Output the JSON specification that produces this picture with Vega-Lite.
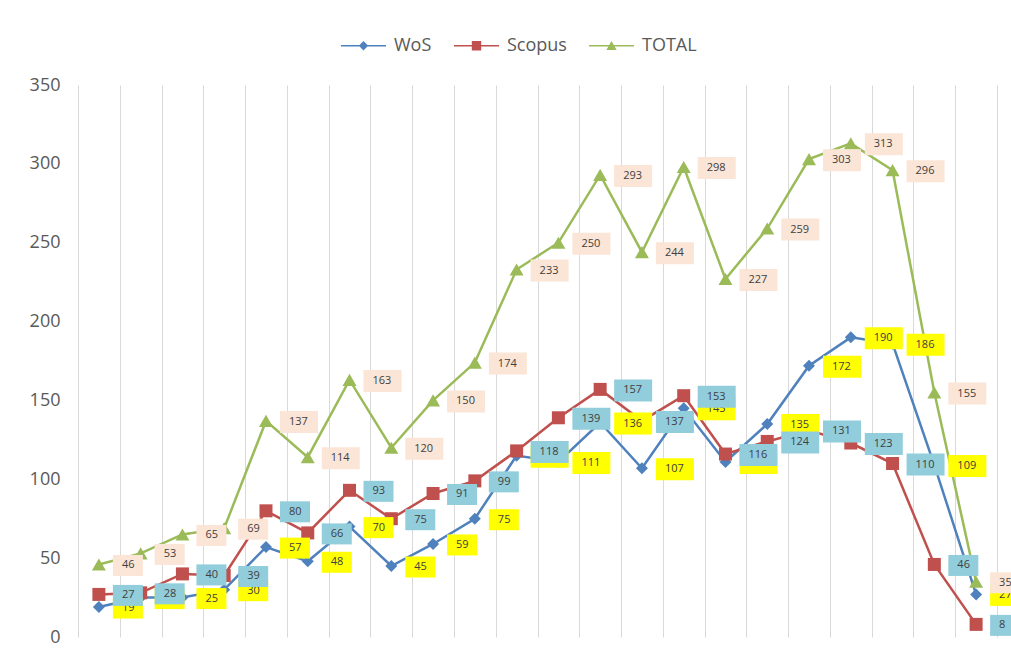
{
  "$schema": "https://vega.github.io/schema/vega-lite/v6.json",
  "width": 919,
  "height": 552,
  "autosize": "none",
  "padding": {"left": 78, "top": 85, "right": 14, "bottom": 16},
  "background": "white",
  "config": {"view": {"stroke": null}, "font": "Open Sans"},
  "data": {"values": [
    {"i":0,"series":"WoS","value":19},{"i":1,"series":"WoS","value":25},{"i":2,"series":"WoS","value":25},{"i":3,"series":"WoS","value":30},{"i":4,"series":"WoS","value":57},{"i":5,"series":"WoS","value":48},{"i":6,"series":"WoS","value":70},{"i":7,"series":"WoS","value":45},{"i":8,"series":"WoS","value":59},{"i":9,"series":"WoS","value":75},{"i":10,"series":"WoS","value":115},{"i":11,"series":"WoS","value":111},{"i":12,"series":"WoS","value":136},{"i":13,"series":"WoS","value":107},{"i":14,"series":"WoS","value":145},{"i":15,"series":"WoS","value":111},{"i":16,"series":"WoS","value":135},{"i":17,"series":"WoS","value":172},{"i":18,"series":"WoS","value":190},{"i":19,"series":"WoS","value":186},{"i":20,"series":"WoS","value":109},{"i":21,"series":"WoS","value":27},
    {"i":0,"series":"Scopus","value":27},{"i":1,"series":"Scopus","value":28},{"i":2,"series":"Scopus","value":40},{"i":3,"series":"Scopus","value":39},{"i":4,"series":"Scopus","value":80},{"i":5,"series":"Scopus","value":66},{"i":6,"series":"Scopus","value":93},{"i":7,"series":"Scopus","value":75},{"i":8,"series":"Scopus","value":91},{"i":9,"series":"Scopus","value":99},{"i":10,"series":"Scopus","value":118},{"i":11,"series":"Scopus","value":139},{"i":12,"series":"Scopus","value":157},{"i":13,"series":"Scopus","value":137},{"i":14,"series":"Scopus","value":153},{"i":15,"series":"Scopus","value":116},{"i":16,"series":"Scopus","value":124},{"i":17,"series":"Scopus","value":131},{"i":18,"series":"Scopus","value":123},{"i":19,"series":"Scopus","value":110},{"i":20,"series":"Scopus","value":46},{"i":21,"series":"Scopus","value":8},
    {"i":0,"series":"TOTAL","value":46},{"i":1,"series":"TOTAL","value":53},{"i":2,"series":"TOTAL","value":65},{"i":3,"series":"TOTAL","value":69},{"i":4,"series":"TOTAL","value":137},{"i":5,"series":"TOTAL","value":114},{"i":6,"series":"TOTAL","value":163},{"i":7,"series":"TOTAL","value":120},{"i":8,"series":"TOTAL","value":150},{"i":9,"series":"TOTAL","value":174},{"i":10,"series":"TOTAL","value":233},{"i":11,"series":"TOTAL","value":250},{"i":12,"series":"TOTAL","value":293},{"i":13,"series":"TOTAL","value":244},{"i":14,"series":"TOTAL","value":298},{"i":15,"series":"TOTAL","value":227},{"i":16,"series":"TOTAL","value":259},{"i":17,"series":"TOTAL","value":303},{"i":18,"series":"TOTAL","value":313},{"i":19,"series":"TOTAL","value":296},{"i":20,"series":"TOTAL","value":155},{"i":21,"series":"TOTAL","value":35}
  ]},
  "encoding": {
    "x": {"field": "i", "type": "quantitative",
      "scale": {"domain": [-0.5, 21.5], "nice": false, "zero": false},
      "axis": {"values": [-0.5,0.5,1.5,2.5,3.5,4.5,5.5,6.5,7.5,8.5,9.5,10.5,11.5,12.5,13.5,14.5,15.5,16.5,17.5,18.5,19.5,20.5,21.5],
        "labels": false, "ticks": false, "domain": false, "grid": true, "gridColor": "#D9D9D9", "gridWidth": 1, "title": null}},
    "y": {"field": "value", "type": "quantitative",
      "scale": {"domain": [0, 350], "nice": false},
      "axis": {"values": [0,50,100,150,200,250,300,350], "grid": false, "domain": false, "ticks": false, "tickSize": 0,
        "labelPadding": 18, "labelFontSize": 18, "labelColor": "#595959", "labelFont": "Open Sans", "title": null}}
  },
  "layer": [
    {"transform": [{"filter": "datum.series === 'WoS'"}], "mark": {"type": "line", "color": "#4F81BD", "strokeWidth": 2.5}},
    {"transform": [{"filter": "datum.series === 'WoS'"}], "mark": {"type": "point", "shape": "diamond", "filled": true, "opacity": 1, "size": 144, "color": "#4F81BD"}},
    {"transform": [{"filter": "datum.series === 'Scopus'"}], "mark": {"type": "line", "color": "#C0504D", "strokeWidth": 2.5}},
    {"transform": [{"filter": "datum.series === 'Scopus'"}], "mark": {"type": "point", "shape": "square", "filled": true, "opacity": 1, "size": 169, "color": "#C0504D"}},
    {"transform": [{"filter": "datum.series === 'TOTAL'"}], "mark": {"type": "line", "color": "#9BBB59", "strokeWidth": 2.5}},
    {"transform": [{"filter": "datum.series === 'TOTAL'"}], "mark": {"type": "point", "shape": "triangle-up", "filled": true, "opacity": 1, "size": 196, "color": "#9BBB59"}},
    {"mark": {"type": "point", "filled": true, "opacity": 0},
     "encoding": {
       "color": {"field": "series", "type": "nominal",
         "scale": {"domain": ["WoS","Scopus","TOTAL"], "range": ["#4F81BD","#C0504D","#9BBB59"]},
         "legend": {"orient": "none", "legendX": 276, "legendY": -49, "direction": "horizontal", "title": null,
           "labelFontSize": 18, "labelColor": "#595959", "labelFont": "Open Sans", "symbolSize": 353, "symbolOpacity": 1,
           "symbolStrokeWidth": 0, "labelOffset": 21, "columnPadding": 21, "padding": 0}},
       "shape": {"field": "series", "type": "nominal",
         "scale": {"domain": ["WoS","Scopus","TOTAL"], "range": [
           "M-2.4,-0.09L2.4,-0.09L2.4,0.09L-2.4,0.09Z M0,-0.5L0.5,0L0,0.5L-0.5,0Z",
           "M-2.4,-0.09L2.4,-0.09L2.4,0.09L-2.4,0.09Z M-0.5,-0.5L0.5,-0.5L0.5,0.5L-0.5,0.5Z",
           "M-2.4,-0.09L2.4,-0.09L2.4,0.09L-2.4,0.09Z M0,-0.5L0.55,0.45L-0.55,0.45Z"]},
         "legend": {"orient": "none", "legendX": 276, "legendY": -49, "direction": "horizontal", "title": null,
           "labelFontSize": 18, "labelColor": "#595959", "labelFont": "Open Sans", "symbolSize": 353, "symbolOpacity": 1,
           "symbolStrokeWidth": 0, "labelOffset": 21, "columnPadding": 21, "padding": 0}}
     }},
    {"transform": [{"filter": "datum.series === 'WoS'"}],
     "mark": {"type": "point", "filled": true, "opacity": 1, "size": 400, "xOffset": 14, "yOffset": 1, "color": "#FFFF00", "strokeWidth": 0},
     "encoding": {"shape": {"condition": [{"test": "datum.value >= 100", "value": "M0,-1.1L3.8,-1.1L3.8,1.1L0,1.1Z"}, {"test": "datum.value >= 10", "value": "M0,-1.05L3,-1.05L3,1.05L0,1.05Z"}], "value": "M0,-1.05L2.4,-1.05L2.4,1.05L0,1.05Z"}}},
    {"transform": [{"filter": "datum.series === 'WoS'"}],
     "mark": {"type": "text", "align": "left", "baseline": "middle", "xOffset": 23, "yOffset": 1, "fontSize": 11, "color": "#404040", "font": "Open Sans"},
     "encoding": {"text": {"field": "value", "type": "quantitative"}}},
    {"transform": [{"filter": "datum.series === 'Scopus'"}],
     "mark": {"type": "point", "filled": true, "opacity": 1, "size": 400, "xOffset": 14, "yOffset": 1, "color": "#92CDDC", "strokeWidth": 0},
     "encoding": {"shape": {"condition": [{"test": "datum.value >= 100", "value": "M0,-1.1L3.8,-1.1L3.8,1.1L0,1.1Z"}, {"test": "datum.value >= 10", "value": "M0,-1.05L3,-1.05L3,1.05L0,1.05Z"}], "value": "M0,-1.05L2.4,-1.05L2.4,1.05L0,1.05Z"}}},
    {"transform": [{"filter": "datum.series === 'Scopus'"}],
     "mark": {"type": "text", "align": "left", "baseline": "middle", "xOffset": 23, "yOffset": 1, "fontSize": 11, "color": "#404040", "font": "Open Sans"},
     "encoding": {"text": {"field": "value", "type": "quantitative"}}},
    {"transform": [{"filter": "datum.series === 'TOTAL'"}],
     "mark": {"type": "point", "filled": true, "opacity": 1, "size": 400, "xOffset": 14, "yOffset": 1, "color": "#FBE5D6", "strokeWidth": 0},
     "encoding": {"shape": {"condition": [{"test": "datum.value >= 100", "value": "M0,-1.1L3.8,-1.1L3.8,1.1L0,1.1Z"}, {"test": "datum.value >= 10", "value": "M0,-1.05L3,-1.05L3,1.05L0,1.05Z"}], "value": "M0,-1.05L2.4,-1.05L2.4,1.05L0,1.05Z"}}},
    {"transform": [{"filter": "datum.series === 'TOTAL'"}],
     "mark": {"type": "text", "align": "left", "baseline": "middle", "xOffset": 23, "yOffset": 1, "fontSize": 11, "color": "#404040", "font": "Open Sans"},
     "encoding": {"text": {"field": "value", "type": "quantitative"}}}
  ]
}
